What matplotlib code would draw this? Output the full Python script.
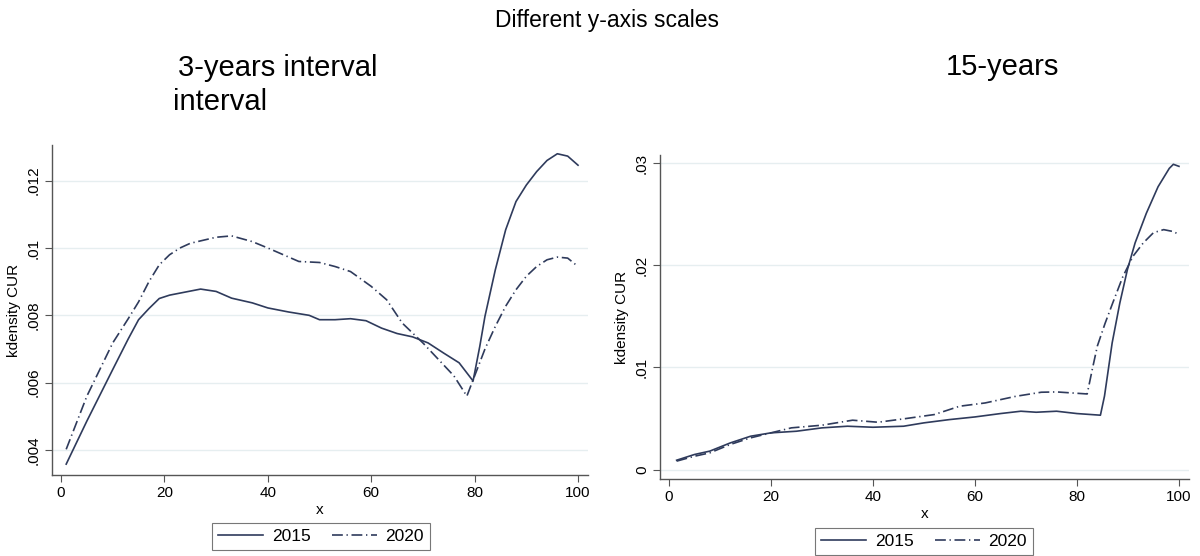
import matplotlib.pyplot as plt

plt.rcParams['font.family'] = ['Liberation Sans', 'DejaVu Sans']

# 3-years interval panel
x3_2015 = [1, 5, 10, 13, 15, 17, 19, 21, 23, 27, 30, 33, 37, 40, 44, 48, 50, 53, 56, 59,
           62, 65, 68, 71, 74, 77, 79.7, 81, 82, 84, 86, 88, 90, 92, 94, 96, 98, 100]
y3_2015 = [.00358, .00486, .00639, .0073, .00787, .0082, .0085, .0086, .00866, .00878,
           .00871, .00851, .00837, .00822, .0081, .008, .00787, .00787, .0079, .00784,
           .00762, .00746, .00736, .00718, .00688, .00659, .00605, .00708, .00797, .00935,
           .01054, .01138, .01187, .01227, .0126, .0128, .01273, .01246]
x3_2020 = [1, 5, 10, 13, 15, 17, 19, 21, 23, 25, 30, 33, 37, 40, 43, 46, 50, 53, 56, 60,
           63, 66, 70, 73, 76, 78.5, 80, 82, 84, 86, 88, 90, 92, 94, 96, 98, 100]
y3_2020 = [.00402, .0056, .00718, .0079, .0084, .0090, .0095, .0098, .0100, .01014,
           .01032, .01036, .01019, .0100, .0098, .0096, .00957, .00945, .0093, .00886,
           .00846, .00777, .00718, .00669, .0062, .0056, .0062, .0070, .00767, .00827,
           .00876, .00916, .00945, .00965, .00973, .0097, .00945]

# 15-years panel
x15_2015 = [1.5, 5, 8, 12, 16, 20, 25, 30, 35, 40, 46, 50, 55, 60, 65, 69, 72, 76, 80,
            84.6, 85.4, 86.9, 88.4, 89.9, 91.4, 93.6, 95.9, 98.1, 98.9, 100]
y15_2015 = [.00091, .00147, .0018, .0026, .00326, .00359, .00375, .00408, .00424, .00414,
            .00424, .00457, .00489, .00515, .00548, .00571, .00561, .00571, .00548,
            .00532, .0072, .0124, .0163, .0196, .0222, .0251, .0277, .0295, .0299, .0297]
x15_2020 = [1.5, 5, 8, 12, 16, 20, 24, 30, 36, 41, 46, 52, 57, 62, 68, 73, 76, 82,
            83, 84, 85.5, 87, 89, 91, 93, 95, 97, 99, 100]
y15_2020 = [.00082, .0013, .00163, .00245, .0031, .00359, .00408, .00434, .00483, .00463,
            .00496, .00538, .0062, .00652, .00717, .00757, .0076, .0074,
            .0098, .0121, .0143, .0163, .0189, .0209, .0222, .0232, .0235, .0233, .023]

xticks = [0, 20, 40, 60, 80, 100]
yticks3 = [.004, .006, .008, .01, .012]
yticklabels3 = ['.004', '.006', '.008', '.01', '.012']
yticks15 = [0, .01, .02, .03]
yticklabels15 = ['0', '.01', '.02', '.03']
series_labels = ['2015', '2020']

line_color = '#2f3b5c'
dash = (0, (6.5, 2.2, 0.8, 2.2))

fig = plt.figure(figsize=(12, 5.56), dpi=100)
ax1 = fig.add_axes([0.0431, 0.1457, 0.4472, 0.5935])
ax2 = fig.add_axes([0.55, 0.1385, 0.4408, 0.5827])

panels = [
    (ax1, x3_2015, y3_2015, x3_2020, y3_2020, yticks3, yticklabels3, (0.003257, 0.01306), (-1.8, 102)),
    (ax2, x15_2015, y15_2015, x15_2020, y15_2020, yticks15, yticklabels15, (-0.00093, 0.03081), (-1.76, 101.96)),
]

for ax, xa, ya, xb, yb, yt, ytl, ylim, xlim in panels:
    ax.plot(xa, ya, color=line_color, lw=1.2, label=series_labels[0])
    ax.plot(xb, yb, color=line_color, lw=1.2, linestyle=dash, label=series_labels[1])
    ax.set_xlim(*xlim)
    ax.set_ylim(*ylim)
    ax.set_xticks(xticks)
    ax.set_yticks(yt)
    ax.set_yticklabels(ytl, rotation=90, va='center')
    ax.tick_params(labelsize=11, color='#555555', length=5, direction='out', pad=3)
    ax.grid(axis='y', color='#e6eef0', lw=1)
    ax.set_axisbelow(True)
    for s in ['top', 'right']:
        ax.spines[s].set_visible(False)
    for s in ['left', 'bottom']:
        ax.spines[s].set_color('#555555')
        ax.spines[s].set_linewidth(1)
    ax.set_ylabel('kdensity CUR', fontsize=11)
    ax.set_xlabel('x', fontsize=11, labelpad=2)

ax1.yaxis.set_label_coords(-0.057, 0.5)
ax2.yaxis.set_label_coords(-0.0586, 0.5)

leg_pos = [(ax1, 321 / 1200, 1 - 523 / 556), (ax2, 924 / 1200, 1 - 528 / 556)]
for ax, lx, ly in leg_pos:
    leg = ax.legend(loc='upper center', bbox_to_anchor=(lx, ly), bbox_transform=fig.transFigure,
                    ncol=2, fontsize=12.5, frameon=True, fancybox=False, edgecolor='#555555',
                    handlelength=2.6, columnspacing=1.2, handletextpad=0.5,
                    borderpad=0.35, borderaxespad=0)
    leg.get_frame().set_linewidth(0.8)

fig.text(607 / 1200, 1 - 21 / 556, 'Different y-axis scales', fontsize=16.5, ha='center', va='center')
fig.text(178 / 1200, 1 - 68 / 556, '3-years interval', fontsize=21, ha='left', va='center')
fig.text(173 / 1200, 1 - 102 / 556, 'interval', fontsize=21, ha='left', va='center')
fig.text(1002 / 1200, 1 - 67 / 556, '15-years', fontsize=21, ha='center', va='center')

fig.savefig('out.png', dpi=100, facecolor='white')
